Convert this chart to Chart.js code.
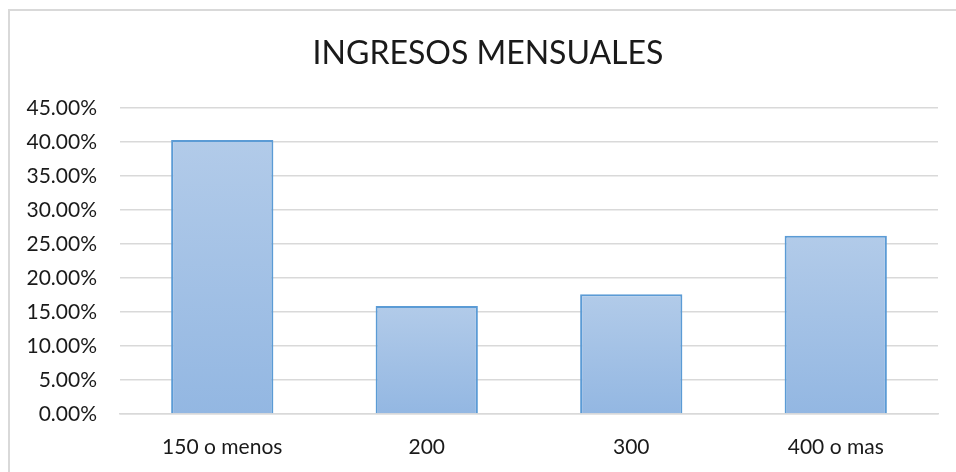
<!DOCTYPE html>
<html>
<head>
<meta charset="utf-8">
<script src="https://cdn.jsdelivr.net/npm/chart.js@4/dist/chart.umd.min.js"></script>
<style>
  html, body { margin: 0; padding: 0; background: #ffffff; }
  #wrap { width: 956px; height: 472px; position: relative; }
</style>
</head>
<body>
<div id="wrap"><canvas id="c" width="956" height="472"></canvas></div>
<script>
const categories = ["150 o menos", "200", "300", "400 o mas"];
const values = [40.3, 15.9, 17.6, 26.2];
const chartTitle = "INGRESOS MENSUALES";
const yMin = 0, yMax = 45, yStep = 5;

const FONT = "Lato";

const borderPlugin = {
  id: 'outerBorder',
  beforeDraw(chart) {
    const ctx = chart.ctx;
    ctx.save();
    ctx.fillStyle = '#ffffff';
    ctx.fillRect(0, 0, chart.width, chart.height);
    ctx.strokeStyle = '#d9d9d9';
    ctx.lineWidth = 2;
    ctx.strokeRect(9, 10, chart.width + 20, chart.height + 20);
    ctx.restore();
  }
};

// centre the title over the full chart frame (which extends past the right edge)
const titleShift = {
  id: 'titleShift',
  afterLayout(chart) {
    const t = chart.titleBlock;
    if (t) { t.left = 38; t.right = 938; }
  }
};

function barGradient(context) {
  const chart = context.chart;
  const area = chart.chartArea;
  if (!area) return '#a3c0e6';
  const v = context.raw;
  const yScale = chart.scales.y;
  const top = yScale.getPixelForValue(v);
  const bottom = yScale.getPixelForValue(0);
  const g = chart.ctx.createLinearGradient(0, top, 0, bottom);
  g.addColorStop(0, '#b2cbe9');
  g.addColorStop(1, '#93b7e2');
  return g;
}

new Chart(document.getElementById('c'), {
  type: 'bar',
  data: {
    labels: categories,
    datasets: [{
      data: values,
      backgroundColor: barGradient,
      borderColor: '#5b9bd5',
      borderWidth: 2,
      barPercentage: 0.5,
      categoryPercentage: 1.0
    }]
  },
  plugins: [borderPlugin, titleShift],
  options: {
    responsive: false,
    animation: false,
    devicePixelRatio: 1,
    layout: { padding: { left: 0, right: 18, top: 0, bottom: 12 } },
    plugins: {
      legend: { display: false },
      tooltip: { enabled: false },
      title: {
        display: true,
        text: chartTitle,
        color: '#1a1a1a',
        font: { family: FONT, size: 32, weight: 'normal', lineHeight: 1.2 },
        padding: { top: 34, bottom: 35.6 }
      }
    },
    scales: {
      x: {
        afterFit(scale) { scale.height = 46; },
        grid: { display: false, drawTicks: false },
        border: { display: true, color: '#d9d9d9', width: 1.5 },
        ticks: { color: '#1a1a1a', font: { family: FONT, size: 21, lineHeight: 1.2 }, padding: 21, maxRotation: 0 }
      },
      y: {
        min: yMin, max: yMax,
        afterFit(scale) { scale.width = 120; },
        grid: { color: '#d9d9d9', lineWidth: 1.5, drawTicks: false },
        border: { display: false },
        ticks: {
          stepSize: yStep,
          color: '#1a1a1a',
          font: { family: FONT, size: 21 },
          padding: 23,
          callback: (v) => v.toFixed(2) + '%'
        }
      }
    }
  }
});
</script>
</body>
</html>
